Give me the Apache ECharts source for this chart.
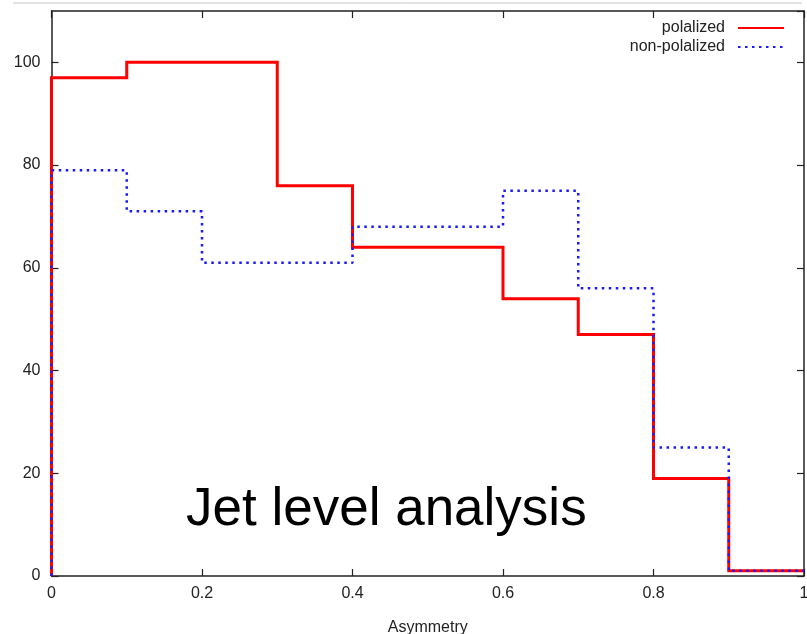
<!DOCTYPE html>
<html>
<head>
<meta charset="utf-8">
<title>Jet level analysis</title>
<script src="https://cdn.jsdelivr.net/npm/echarts@6/dist/echarts.min.js"></script>
<style>
  html, body { margin: 0; padding: 0; background: #ffffff; }
  #chart { width: 807px; height: 634px; }
</style>
</head>
<body>
<div id="chart"></div>
<script>
// Histogram bins: right edges of each 0.1-wide asymmetry bin
const binRightEdges = [0.1, 0.2, 0.3, 0.4, 0.5, 0.6, 0.7, 0.8, 0.9, 1.0];
// Counts per bin
const polalized    = [97, 100, 100, 76, 64, 64, 54, 47, 19, 1];
const nonPolalized = [79, 71, 61, 61, 68, 68, 75, 56, 25, 1];
// Tick values
const xTicks = [0, 0.2, 0.4, 0.6, 0.8, 1];
const yTicks = [0, 20, 40, 60, 80, 100];

const FONT = 'Liberation Sans, Arial, Helvetica, sans-serif';
const AXIS_COLOR = '#222';

// Step outline: start at zero on the left edge, then one point per bin's right edge
function stepPoints(values) {
  const pts = [[0, 0]];
  values.forEach((v, i) => pts.push([binRightEdges[i], v]));
  return pts;
}

const chart = echarts.init(document.getElementById('chart'), null, { renderer: 'canvas' });

function frameAxis(extra) {
  return Object.assign({
    axisLine: { show: true, onZero: false, lineStyle: { color: AXIS_COLOR, width: 1.5 } },
    axisTick: { show: true, inside: true, length: 7, lineStyle: { color: AXIS_COLOR, width: 1.2 } },
    splitLine: { show: false },
    minorTick: { show: false }
  }, extra);
}

chart.setOption({
  animation: false,
  backgroundColor: '#ffffff',
  textStyle: { fontFamily: FONT },
  grid: { left: 51.5, right: 3, top: 11, bottom: 58, containLabel: false, outerBoundsMode: 'none' },
  legend: {
    orient: 'vertical',
    right: 17,
    top: 15,
    align: 'right',
    itemWidth: 46,
    itemHeight: 14,
    itemGap: 3,
    itemStyle: { color: 'rgba(0,0,0,0)', borderWidth: 0, opacity: 0 },
    textStyle: { fontFamily: FONT, fontSize: 16, color: '#222', padding: [0, 8, 0, 0], lineHeight: 14 },
    data: ['polalized', 'non-polalized']
  },
  xAxis: [
    frameAxis({
      type: 'value',
      position: 'bottom',
      min: xTicks[0],
      max: xTicks[xTicks.length - 1],
      interval: 0.2,
      name: 'Asymmetry',
      nameLocation: 'middle',
      nameGap: 44,
      nameTextStyle: { fontFamily: FONT, fontSize: 16, color: '#222' },
      axisLabel: { fontFamily: FONT, fontSize: 16, color: '#222', margin: 10, showMaxLabel: true, showMinLabel: true }
    }),
    frameAxis({
      type: 'value',
      position: 'top',
      min: xTicks[0],
      max: xTicks[xTicks.length - 1],
      interval: 0.2,
      axisLabel: { show: false }
    })
  ],
  yAxis: [
    frameAxis({
      type: 'value',
      position: 'left',
      min: yTicks[0],
      max: 110,
      interval: 20,
      axisLabel: { fontFamily: FONT, fontSize: 16, color: '#222', margin: 11, showMaxLabel: false }
    }),
    frameAxis({
      type: 'value',
      position: 'right',
      min: yTicks[0],
      max: 110,
      interval: 20,
      axisLabel: { show: false }
    })
  ],
  series: [
    {
      name: 'polalized',
      type: 'line',
      xAxisIndex: 0,
      yAxisIndex: 0,
      step: 'start',
      symbol: 'none',
      clip: false,
      data: stepPoints(polalized),
      lineStyle: { color: '#ff0000', width: 3, join: 'miter', cap: 'butt' },
      itemStyle: { color: '#ff0000' },
      z: 3
    },
    {
      name: 'non-polalized',
      type: 'line',
      xAxisIndex: 0,
      yAxisIndex: 0,
      step: 'start',
      symbol: 'none',
      clip: false,
      data: stepPoints(nonPolalized),
      lineStyle: { color: '#1a1aff', width: 2.5, type: [2.5, 4.5], cap: 'butt' },
      itemStyle: { color: '#1a1aff' },
      z: 4
    }
  ],
  graphic: [
    {
      type: 'line',
      shape: { x1: 13, y1: 3, x2: 802, y2: 3 },
      style: { stroke: '#c8c8c8', lineWidth: 1 },
      silent: true
    },
    {
      type: 'text',
      left: 186,
      top: 484,
      style: {
        text: 'Jet level analysis',
        font: '53px ' + FONT,
        fill: '#000000'
      },
      silent: true
    }
  ]
});
</script>
</body>
</html>
